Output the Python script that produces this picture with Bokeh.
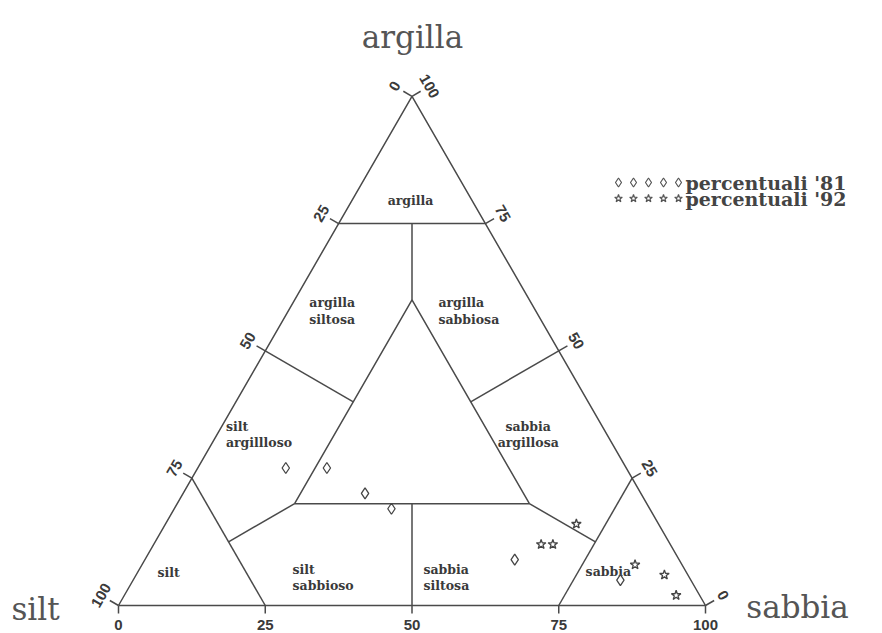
import math
from bokeh.plotting import figure
from bokeh.models import Range1d
from bokeh.core.properties import value
from bokeh.embed import file_html
from bokeh.resources import INLINE

# ---------------- data (percentages) ----------------
# campioni 1981 (rombi)
sabbia_81 = [15, 22, 31, 37, 63, 83]
argilla_81 = [27, 27, 22, 19, 9, 5]
silt_81 = [58, 51, 47, 44, 28, 12]
# campioni 1992 (stelle)
sabbia_92 = [70, 66, 68, 84, 90, 94]
argilla_92 = [16, 12, 12, 8, 6, 2]
silt_92 = [14, 22, 20, 8, 4, 4]

tick_values = [0, 25, 50, 75, 100]
tick_labels = ["0", "25", "50", "75", "100"]

axis_names = ["argilla", "silt", "sabbia"]
legend_labels = ["percentuali  '81", "percentuali  '92"]

# classification boundaries, as (sabbia, argilla) pairs
boundaries = [
    [(0, 0), (100, 0), (0, 100), (0, 0)],
    [(0, 75), (25, 75)],
    [(12.5, 75), (20, 60)],
    [(20, 60), (20, 20), (60, 20), (20, 60)],
    [(0, 50), (20, 40)],
    [(50, 50), (40, 40)],
    [(25, 0), (0, 25)],
    [(12.5, 12.5), (20, 20)],
    [(50, 0), (40, 20)],
    [(75, 0), (75, 25)],
    [(75, 12.5), (60, 20)],
]

# region names and their anchor (sabbia, argilla), alignment
regions = [
    ("argilla", (10.0, 79.5), "center"),
    ("argilla\nsiltosa", (7.5, 57.8), "center"),
    ("argilla\nsabbiosa", (25.6, 57.8), "left"),
    ("silt\nargillloso", (1.5, 33.6), "left"),
    ("sabbia\nargillosa", (53.0, 33.6), "center"),
    ("silt", (5.3, 6.5), "center"),
    ("silt\nsabbioso", (26.9, 5.5), "left"),
    ("sabbia\nsiltosa", (49.2, 5.5), "left"),
    ("sabbia", (80.1, 6.7), "center"),
]

# ---------------- geometry helpers ----------------
S3 = math.sqrt(3) / 2
SX, SY = 5.87, 5.88          # px per unit
LEFT_PX, BOTTOM_PX = 118, 605
W, H = 882, 633
x0 = -LEFT_PX / SX
x1 = x0 + W / SX
y1 = BOTTOM_PX / SY
y0 = y1 - H / SY


def to_xy(s, a):
    return s + a / 2.0, a * S3


def page(px, py):
    """picture pixel -> data coordinates (for layout elements only)"""
    return x0 + px / SX, y1 - py / SY


LINE = "#4a4a4a"
TXT = "#3a3a3a"

p = figure(width=W, height=H, x_range=Range1d(x0, x1), y_range=Range1d(y0, y1),
           x_axis_type=None, y_axis_type=None, output_backend="svg",
           toolbar_location=None, min_border=0)
p.grid.visible = False
p.outline_line_color = None
p.background_fill_color = "#ffffff"
p.border_fill_color = "#ffffff"

# boundaries
xs, ys = [], []
for seg in boundaries:
    pts = [to_xy(s, a) for s, a in seg]
    xs.append([q[0] for q in pts])
    ys.append([q[1] for q in pts])
p.multi_line(xs, ys, line_color=LINE, line_width=1.5)

# ticks and tick labels
TL = 10 / SX
LO = 20 / SX
txs, tys, lx, ly, lt, la = [], [], [], [], [], []
for v, t in zip(tick_values, tick_labels):
    # bottom axis: sabbia
    bx, by = to_xy(v, 0)
    txs.append([bx, bx]); tys.append([by, by - 8 / SY])
    lx.append(bx); ly.append(by - 19 / SY); lt.append(t); la.append(0.0)
    # left axis: silt (silt = v -> argilla = 100 - v, sabbia 0)
    cx, cy = to_xy(0, 100 - v)
    dx, dy = -S3, 0.5
    txs.append([cx, cx + dx * TL]); tys.append([cy, cy + dy * TL])
    lx.append(cx + dx * LO); ly.append(cy + dy * LO); lt.append(t); la.append(math.pi / 3)
    # right axis: argilla
    rx, ry = to_xy(100 - v, v)
    dx, dy = S3, 0.5
    txs.append([rx, rx + dx * TL]); tys.append([ry, ry + dy * TL])
    lx.append(rx + dx * LO); ly.append(ry + dy * LO); lt.append(t); la.append(-math.pi / 3)
p.multi_line(txs, tys, line_color=LINE, line_width=1.5)
p.text(x=lx, y=ly, text=lt, angle=la, text_font=value("Liberation Sans"),
       text_font_style="bold", text_font_size="15px", text_color=TXT,
       text_align="center", text_baseline="middle")

# region labels
for name, (s, a), al in regions:
    x, y = to_xy(s, a)
    p.text(x=[x], y=[y], text=[name], text_font=value("DejaVu Serif"),
           text_font_style="bold", text_font_size="12.5px", text_color=TXT,
           text_align=al, text_baseline="middle", text_line_height=1.1)

# data points
x81 = [to_xy(s, a)[0] for s, a in zip(sabbia_81, argilla_81)]
y81 = [to_xy(s, a)[1] for s, a in zip(sabbia_81, argilla_81)]
x92 = [to_xy(s, a)[0] for s, a in zip(sabbia_92, argilla_92)]
y92 = [to_xy(s, a)[1] for s, a in zip(sabbia_92, argilla_92)]
p.scatter(x81, y81, marker="diamond", size=11, fill_color="white",
          line_color="#444444", line_width=1.3)
p.scatter(x92, y92, marker="star", size=10, fill_color="white",
          line_color="#444444", line_width=1.3)

# axis names
ax_pos = [(412, 36, "center"), (35, 608, "center"), (797, 606, "center")]
for name, (px, py, al) in zip(axis_names, ax_pos):
    x, y = page(px, py)
    p.text(x=[x], y=[y], text=[name], text_font=value("DejaVu Serif"),
           text_font_size="31px", text_color="#555555",
           text_align=al, text_baseline="alphabetic")

# legend
for row, (lab, mk) in enumerate(zip(legend_labels, ["diamond", "star"])):
    py = 182 + row * 16
    mx, my = [], []
    for k in range(5):
        x, y = page(618 + 15 * k, py)
        mx.append(x); my.append(y)
    p.scatter(mx, my, marker=mk, size=9 if mk == "diamond" else 8,
              fill_color="white", line_color="#555555", line_width=1.2)
    tx, ty = page(685, py)
    p.text(x=[tx], y=[ty], text=[lab], text_font=value("DejaVu Serif"),
           text_font_style="bold", text_font_size="19px", text_color="#444444",
           text_align="left", text_baseline="middle")

open("out.html", "w").write(file_html(p, INLINE))
